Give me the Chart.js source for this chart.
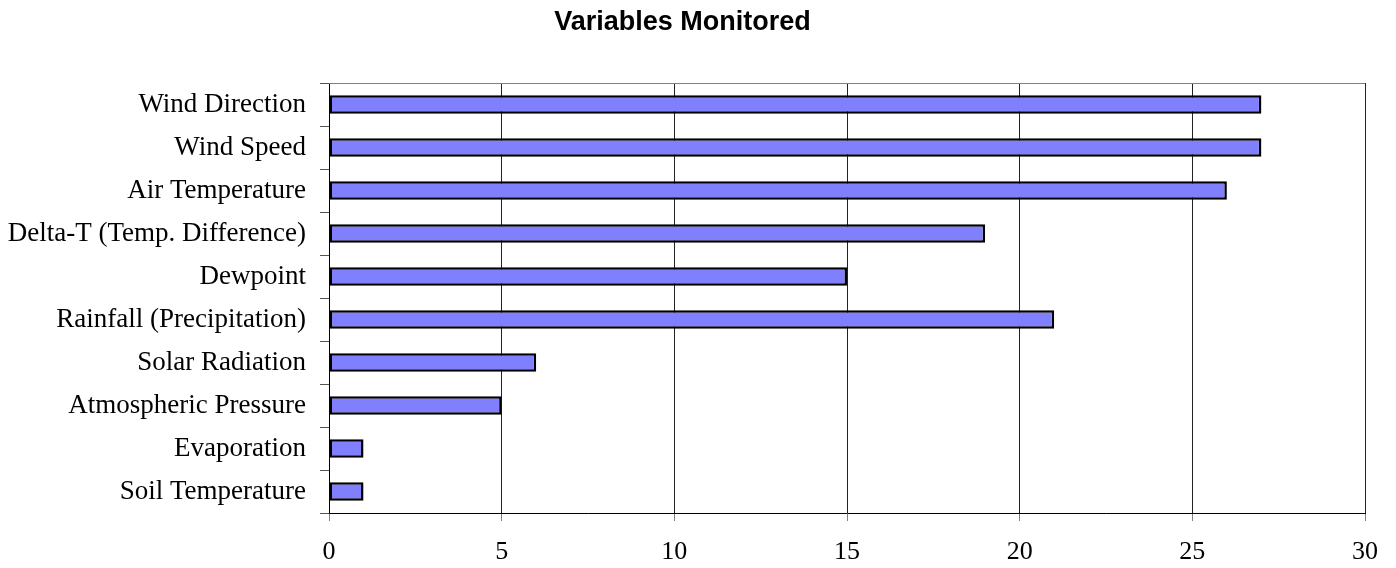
<!DOCTYPE html>
<html>
<head>
<meta charset="utf-8">
<title>Variables Monitored</title>
<script src="https://cdn.jsdelivr.net/npm/chart.js@4/dist/chart.umd.min.js"></script>
<style>
    body { margin: 0; background: #fff; }
    canvas { display: block; }
</style>
</head>
<body>
<canvas id="varsChart" width="1396" height="568"></canvas>
<script>
// Number of stations monitoring each variable
const categories = [
    'Wind Direction',
    'Wind Speed',
    'Air Temperature',
    'Delta-T (Temp. Difference)',
    'Dewpoint',
    'Rainfall (Precipitation)',
    'Solar Radiation',
    'Atmospheric Pressure',
    'Evaporation',
    'Soil Temperature'
];
const stationCounts = [27, 27, 26, 19, 15, 21, 6, 5, 1, 1];
const xTicks = [0, 5, 10, 15, 20, 25, 30];

// grey frame line along the top of the plot area
const topFrame = {
    id: 'topFrame',
    afterDraw(chart) {
        const a = chart.chartArea;
        const c = chart.ctx;
        c.save();
        c.strokeStyle = '#808080';
        c.lineWidth = 1;
        c.beginPath();
        c.moveTo(a.left, a.top + 0.5);
        c.lineTo(a.right, a.top + 0.5);
        c.stroke();
        c.restore();
    }
};

const serif = "'Liberation Serif', 'Times New Roman', serif";

new Chart(document.getElementById('varsChart'), {
    type: 'bar',
    data: {
        labels: categories,
        datasets: [{
            label: 'Variables Monitored',
            data: stationCounts,
            backgroundColor: '#8080FF',
            borderColor: '#000000',
            borderWidth: 2.5,
            borderSkipped: false,
            categoryPercentage: 1,
            barPercentage: 0.43
        }]
    },
    options: {
        indexAxis: 'y',
        responsive: false,
        animation: false,
        layout: { padding: { left: 0, right: 31, top: 0, bottom: 0 } },
        plugins: {
            legend: { display: false },
            tooltip: { enabled: false },
            title: {
                display: true,
                text: 'Variables Monitored',
                color: '#000',
                font: { family: "'Liberation Sans', Arial, sans-serif", size: 27, weight: 'bold', lineHeight: 1.2 },
                padding: { top: 6, bottom: 44.6 }
            }
        },
        scales: {
            x: {
                min: 0,
                max: 30,
                afterBuildTicks: function(axis) {
                    axis.ticks = xTicks.map(v => ({ value: v }));
                },
                afterFit: function(axis) { axis.height = 55; },
                grid: {
                    color: '#222',
                    lineWidth: 1,
                    drawTicks: true,
                    tickLength: 8,
                    tickColor: '#808080'
                },
                border: { display: true, color: '#000', width: 1 },
                ticks: {
                    color: '#000',
                    padding: 16,
                    maxRotation: 0,
                    font: { family: serif, size: 26 }
                }
            },
            y: {
                afterFit: function(axis) { axis.width = 329; },
                grid: {
                    offset: true,
                    drawOnChartArea: false,
                    drawTicks: true,
                    tickLength: 9,
                    tickColor: '#555'
                },
                border: { display: true, color: '#000', width: 1 },
                ticks: {
                    color: '#000',
                    padding: 14,
                    autoSkip: false,
                    font: { family: serif, size: 27 }
                }
            }
        }
    },
    plugins: [topFrame]
});
</script>
</body>
</html>
